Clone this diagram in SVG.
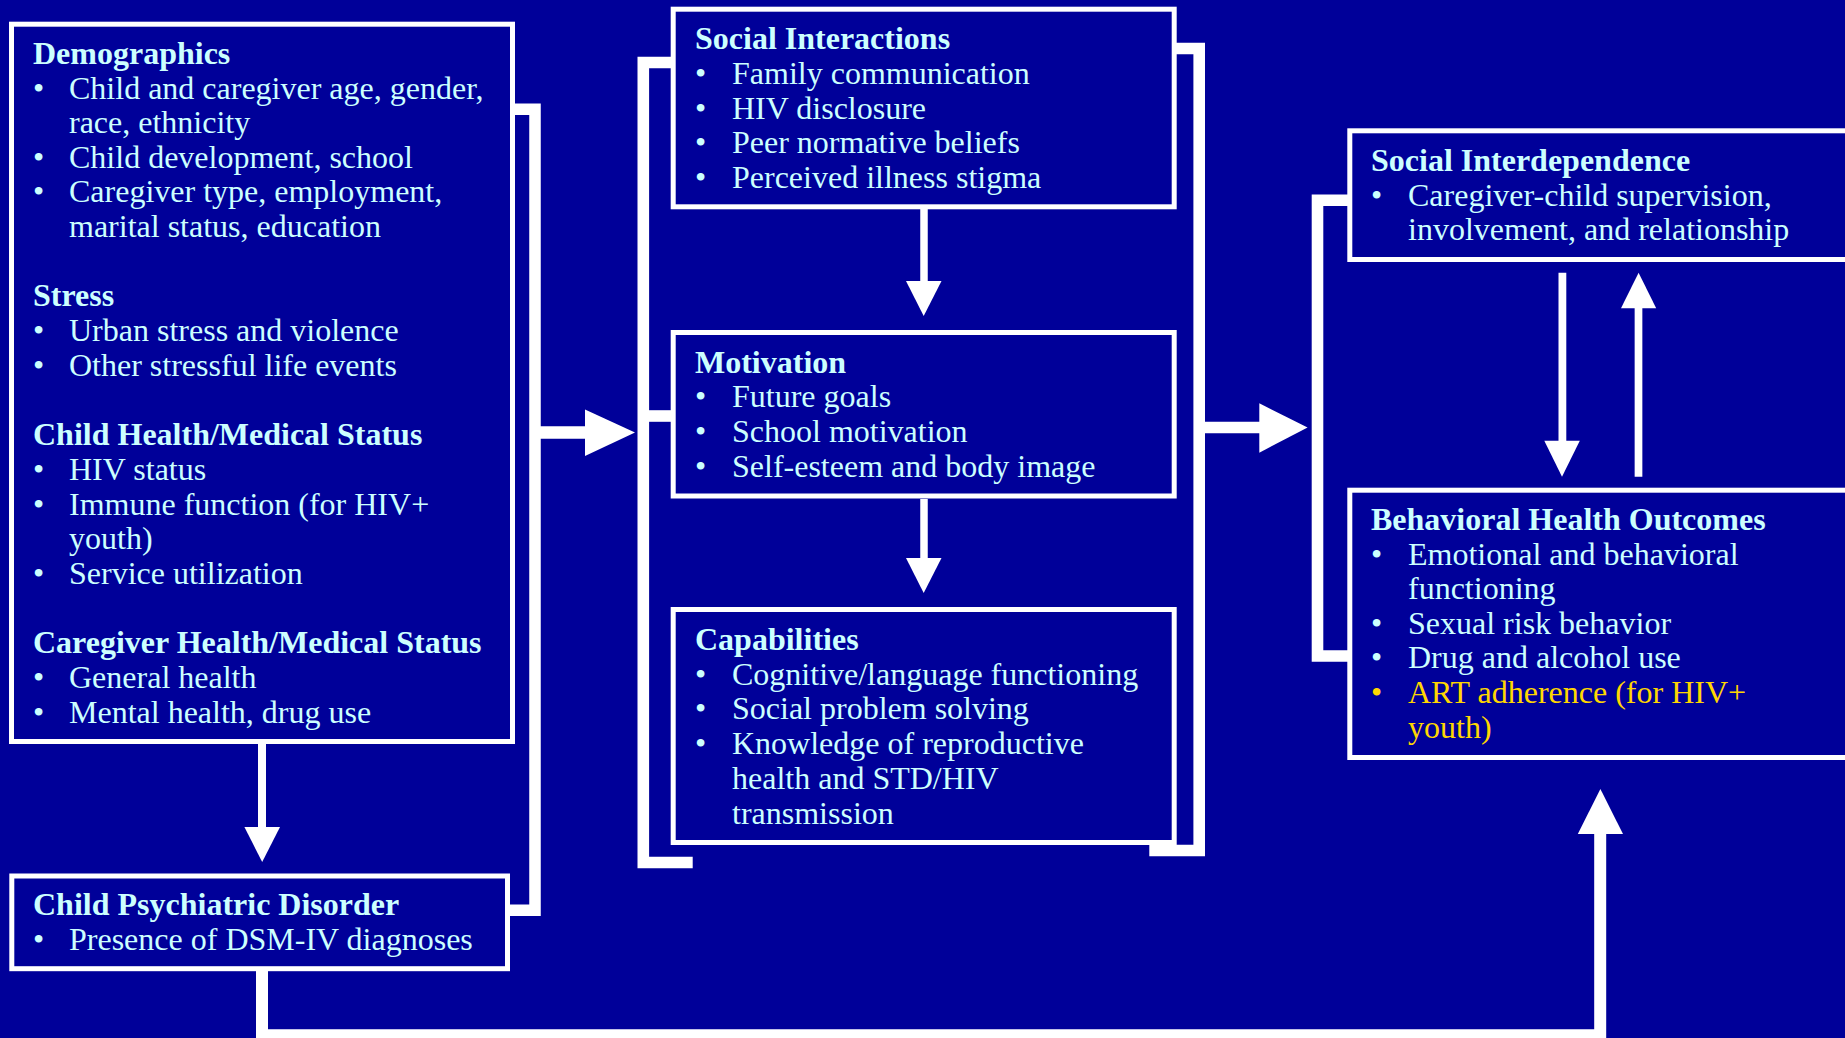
<svg xmlns="http://www.w3.org/2000/svg" width="1845" height="1038" viewBox="0 0 1845 1038">
<style>
  .box { fill: none; stroke: #FFFFFF; stroke-width: 5; }
  .t { font-family: "Liberation Serif", "Times New Roman", serif; font-size: 32px; fill: #CCFFFF; }
  .h { font-weight: bold; }
  .y { fill: #FFD700; }
  .ln { fill: none; stroke: #FFFFFF; stroke-linejoin: miter; stroke-linecap: butt; }
  .hd { fill: #FFFFFF; }
</style>
<rect x="0" y="0" width="1845" height="1038" fill="#000099"/>

<g id="connectors">
  <!-- left bracket -->
  <path class="ln" stroke-width="11.5" d="M512 109.2 H535 V910.2 H506"/>
  <path class="ln" stroke-width="12.5" d="M540 432.5 H586"/>
  <polygon class="hd" points="585,409.5 635,432.5 585,456"/>
  <!-- middle left bracket -->
  <path class="ln" stroke-width="11.6" d="M671 62.5 H643.3 V862.5 H692.7"/>
  <path class="ln" stroke-width="11.6" d="M643.3 416 H671"/>
  <!-- middle right bracket -->
  <path class="ln" stroke-width="11.6" d="M1174 48.5 H1199.2 V850.5 H1149.3"/>
  <path class="ln" stroke-width="11.6" d="M1205 427.5 H1260"/>
  <polygon class="hd" points="1259.3,403.3 1307.6,427.5 1259.3,452.7"/>
  <!-- right bracket -->
  <path class="ln" stroke-width="11.6" d="M1349 200.2 H1317.5 V656 H1349"/>
  <!-- vertical arrows in middle -->
  <path class="ln" stroke-width="7.5" d="M924 209 V282"/>
  <polygon class="hd" points="906,281 941.5,281 923.7,316"/>
  <path class="ln" stroke-width="7.5" d="M924 499 V559"/>
  <polygon class="hd" points="906,558 941.5,558 923.7,593"/>
  <!-- demographics to psychiatric -->
  <path class="ln" stroke-width="8" d="M262 744 V828"/>
  <polygon class="hd" points="244.4,827 280,827 262.2,862"/>
  <!-- social interdependence <-> outcomes -->
  <path class="ln" stroke-width="7.8" d="M1562.4 272.7 V441"/>
  <polygon class="hd" points="1544.3,440.7 1579.8,440.7 1562,476.7"/>
  <path class="ln" stroke-width="7.7" d="M1638.5 476.7 V307"/>
  <polygon class="hd" points="1621,308.3 1656.2,308.3 1638.6,272.7"/>
  <!-- bottom connector -->
  <path class="ln" stroke-width="12" d="M262 971 V1035.3 H1600.2 V833"/>
  <polygon class="hd" points="1577.8,834 1623,834 1600.4,789"/>
</g>

<g id="demographics">
  <rect class="box" x="11.5" y="24.2" width="501" height="717.3"/>
  <text class="t h" x="33" y="63.5">Demographics</text>
  <text class="t" x="33" y="98.5">•</text><text class="t" x="69" y="98.5">Child and caregiver age, gender,</text>
  <text class="t" x="69" y="133">race, ethnicity</text>
  <text class="t" x="33" y="167.5">•</text><text class="t" x="69" y="167.5">Child development, school</text>
  <text class="t" x="33" y="202">•</text><text class="t" x="69" y="202">Caregiver type, employment,</text>
  <text class="t" x="69" y="236.5">marital status, education</text>
  <text class="t h" x="33" y="305.5">Stress</text>
  <text class="t" x="33" y="340.5">•</text><text class="t" x="69" y="340.5">Urban stress and violence</text>
  <text class="t" x="33" y="375.5">•</text><text class="t" x="69" y="375.5">Other stressful life events</text>
  <text class="t h" x="33" y="444.5">Child Health/Medical Status</text>
  <text class="t" x="33" y="480">•</text><text class="t" x="69" y="480">HIV status</text>
  <text class="t" x="33" y="514.5">•</text><text class="t" x="69" y="514.5">Immune function (for HIV+</text>
  <text class="t" x="69" y="549">youth)</text>
  <text class="t" x="33" y="584">•</text><text class="t" x="69" y="584">Service utilization</text>
  <text class="t h" x="33" y="653">Caregiver Health/Medical Status</text>
  <text class="t" x="33" y="687.5">•</text><text class="t" x="69" y="687.5">General health</text>
  <text class="t" x="33" y="722.5">•</text><text class="t" x="69" y="722.5">Mental health, drug use</text>
</g>

<g id="child-psychiatric-disorder">
  <rect class="box" x="11.8" y="876" width="495.7" height="92.7"/>
  <text class="t h" x="33" y="914.5">Child Psychiatric Disorder</text>
  <text class="t" x="33" y="950">•</text><text class="t" x="69" y="950">Presence of DSM-IV diagnoses</text>
</g>

<g id="social-interactions">
  <rect class="box" x="673.2" y="9.2" width="501" height="197.6"/>
  <text class="t h" x="695" y="49.3">Social Interactions</text>
  <text class="t" x="695" y="84">•</text><text class="t" x="732" y="84">Family communication</text>
  <text class="t" x="695" y="118.5">•</text><text class="t" x="732" y="118.5">HIV disclosure</text>
  <text class="t" x="695" y="153">•</text><text class="t" x="732" y="153">Peer normative beliefs</text>
  <text class="t" x="695" y="187.7">•</text><text class="t" x="732" y="187.7">Perceived illness stigma</text>
</g>

<g id="motivation">
  <rect class="box" x="673.2" y="332.5" width="501" height="163.5"/>
  <text class="t h" x="695" y="372.7">Motivation</text>
  <text class="t" x="695" y="407.3">•</text><text class="t" x="732" y="407.3">Future goals</text>
  <text class="t" x="695" y="442">•</text><text class="t" x="732" y="442">School motivation</text>
  <text class="t" x="695" y="476.7">•</text><text class="t" x="732" y="476.7">Self-esteem and body image</text>
</g>

<g id="capabilities">
  <rect class="box" x="673.2" y="609.5" width="501" height="233"/>
  <text class="t h" x="695" y="650">Capabilities</text>
  <text class="t" x="695" y="684.7">•</text><text class="t" x="732" y="684.7">Cognitive/language functioning</text>
  <text class="t" x="695" y="719.4">•</text><text class="t" x="732" y="719.4">Social problem solving</text>
  <text class="t" x="695" y="754">•</text><text class="t" x="732" y="754">Knowledge of reproductive</text>
  <text class="t" x="732" y="788.8">health and STD/HIV</text>
  <text class="t" x="732" y="823.5">transmission</text>
</g>

<g id="social-interdependence">
  <rect class="box" x="1349.8" y="130.8" width="520" height="128.7"/>
  <text class="t h" x="1371" y="171">Social Interdependence</text>
  <text class="t" x="1371" y="205.5">•</text><text class="t" x="1408" y="205.5">Caregiver-child supervision,</text>
  <text class="t" x="1408" y="240">involvement, and relationship</text>
</g>

<g id="behavioral-health-outcomes">
  <rect class="box" x="1349.8" y="490.2" width="520" height="267.3"/>
  <text class="t h" x="1371" y="529.8">Behavioral Health Outcomes</text>
  <text class="t" x="1371" y="564.7">•</text><text class="t" x="1408" y="564.7">Emotional and behavioral</text>
  <text class="t" x="1408" y="599.2">functioning</text>
  <text class="t" x="1371" y="633.7">•</text><text class="t" x="1408" y="633.7">Sexual risk behavior</text>
  <text class="t" x="1371" y="668">•</text><text class="t" x="1408" y="668">Drug and alcohol use</text>
  <text class="t y" x="1371" y="703.3">•</text><text class="t y" x="1408" y="703.3">ART adherence (for HIV+</text>
  <text class="t y" x="1408" y="737.5">youth)</text>
</g>
</svg>
